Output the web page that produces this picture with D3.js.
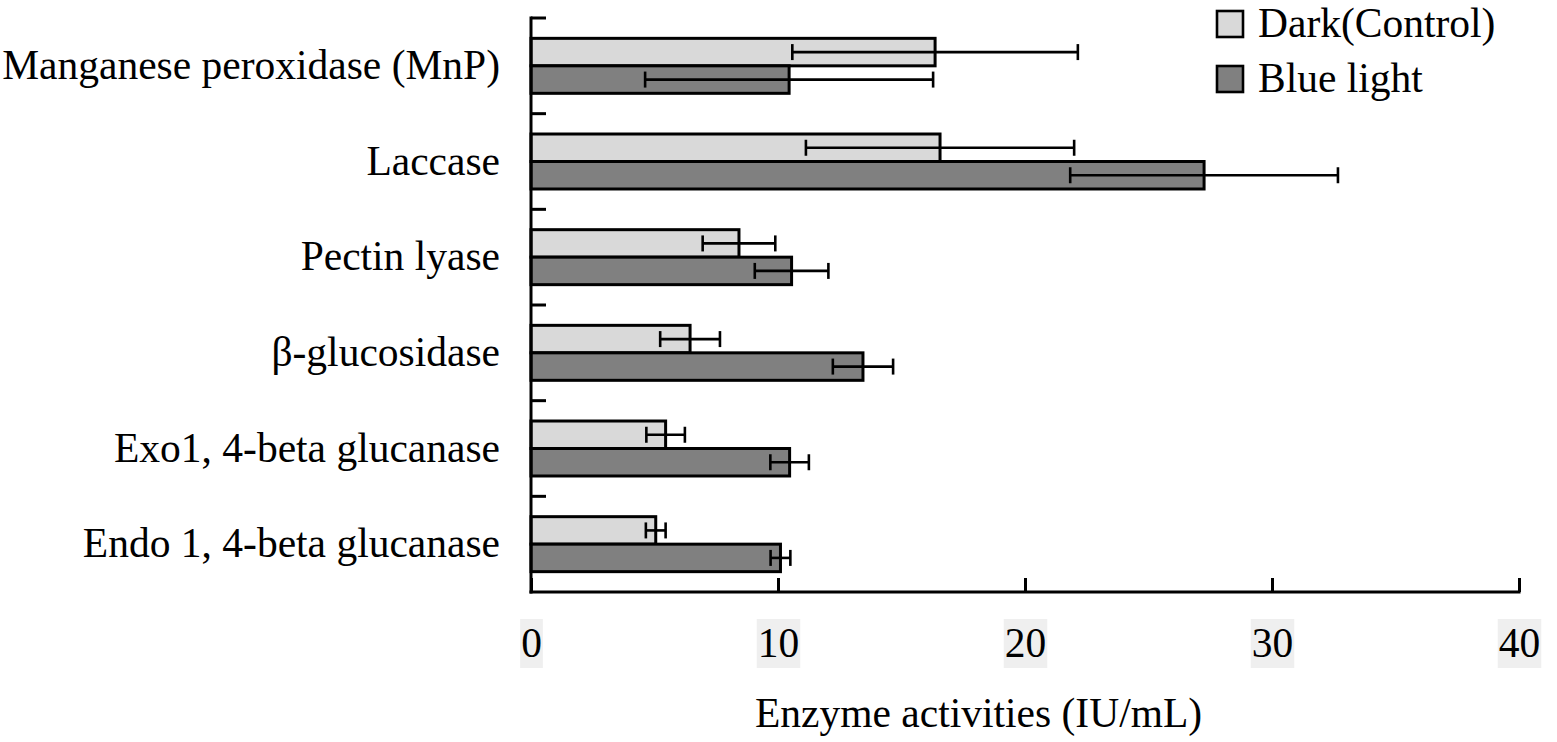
<!DOCTYPE html>
<html>
<head>
<meta charset="utf-8">
<script src="https://cdn.jsdelivr.net/npm/d3@7"></script>
<style>
  html, body { margin: 0; padding: 0; background: #fff; }
  text { font-family: "Liberation Serif", "Times New Roman", serif; fill: #000; }
</style>
</head>
<body>
<svg id="chart" width="1557" height="742"></svg>
<script>
var categories = [
    'Manganese peroxidase (MnP)',
    'Laccase',
    'Pectin lyase',
    '\u03b2-glucosidase',
    'Exo1, 4-beta glucanase',
    'Endo 1, 4-beta glucanase'
];
var seriesNames = ['Dark(Control)', 'Blue light'];
var darkValues = [16.36, 16.56, 8.42, 6.44, 5.45, 5.05];
var darkErrors = [5.78, 5.43, 1.47, 1.21, 0.78, 0.4];
var blueValues = [10.45, 27.25, 10.55, 13.44, 10.47, 10.1];
var blueErrors = [5.83, 5.42, 1.49, 1.22, 0.78, 0.4];
var xTicks = [0, 10, 20, 30, 40];
var xTitle = 'Enzyme activities (IU/mL)';

(function () {
    'use strict';

    var svg = d3.select('#chart');
    var fontSize = 41.5;
    var colors = ['#d9d9d9', '#808080'];

    var x = d3.scaleLinear().domain([0, 40]).range([531, 1519]);
    var y0 = d3.scaleBand().domain(categories).range([18, 592]).padding(0);
    var y1 = d3.scaleBand().domain(seriesNames)
        .range([0, y0.bandwidth()])
        .paddingInner(0)
        .paddingOuter(0.74);

    var rows = categories.map(function (c, i) {
        return {
            cat: c,
            vals: [
                { s: seriesNames[0], v: darkValues[i], e: darkErrors[i], k: 0 },
                { s: seriesNames[1], v: blueValues[i], e: blueErrors[i], k: 1 }
            ]
        };
    });

    // bars
    var groups = svg.append('g').selectAll('g')
        .data(rows)
        .enter().append('g')
            .attr('transform', function (d) { return 'translate(0,' + y0(d.cat) + ')'; });

    groups.selectAll('rect')
        .data(function (d) { return d.vals; })
        .enter().append('rect')
            .attr('x', x(0))
            .attr('y', function (d) { return y1(d.s); })
            .attr('width', function (d) { return x(d.v) - x(0); })
            .attr('height', y1.bandwidth())
            .attr('fill', function (d) { return colors[d.k]; })
            .attr('stroke', '#000')
            .attr('stroke-width', 3);

    // error bars
    var err = groups.selectAll('g.err')
        .data(function (d) { return d.vals; })
        .enter().append('g')
            .attr('class', 'err')
            .attr('stroke', '#000')
            .attr('stroke-width', 2.6);

    err.append('line')
        .attr('x1', function (d) { return x(d.v - d.e); })
        .attr('x2', function (d) { return x(d.v + d.e); })
        .attr('y1', function (d) { return y1(d.s) + y1.bandwidth() / 2; })
        .attr('y2', function (d) { return y1(d.s) + y1.bandwidth() / 2; });

    [-1, 1].forEach(function (sgn) {
        err.append('line')
            .attr('x1', function (d) { return x(d.v + sgn * d.e); })
            .attr('x2', function (d) { return x(d.v + sgn * d.e); })
            .attr('y1', function (d) { return y1(d.s) + y1.bandwidth() / 2 - 8; })
            .attr('y2', function (d) { return y1(d.s) + y1.bandwidth() / 2 + 8; });
    });

    // y axis line and ticks at category boundaries
    var yAxis = svg.append('g').attr('stroke', '#000').attr('stroke-width', 3);
    yAxis.append('line')
        .attr('x1', x(0)).attr('x2', x(0))
        .attr('y1', y0.range()[0] - 1.5).attr('y2', y0.range()[1] + 1.5);
    yAxis.selectAll('line.tk')
        .data(categories)
        .enter().append('line')
            .attr('class', 'tk')
            .attr('x1', x(0))
            .attr('x2', x(0) + 15)
            .attr('y1', function (d) { return y0(d); })
            .attr('y2', function (d) { return y0(d); });

    // category labels
    svg.append('g').selectAll('text')
        .data(categories)
        .enter().append('text')
            .attr('x', 500)
            .attr('y', function (d) { return y0(d) + y0.bandwidth() / 2 + 13; })
            .attr('text-anchor', 'end')
            .attr('font-size', fontSize)
            .text(function (d) { return d; });

    // x axis
    var xAxisG = svg.append('g')
        .attr('transform', 'translate(0,592)')
        .call(d3.axisBottom(x).tickValues(xTicks).tickSize(-14).tickSizeOuter(0).tickPadding(0));
    xAxisG.select('.domain').attr('stroke', '#000').attr('stroke-width', 3.2)
        .attr('d', 'M' + (x(0) - 1.5) + ',0H' + (x(40) + 1.5));
    xAxisG.selectAll('.tick line').attr('stroke', '#000').attr('stroke-width', 3);
    xAxisG.selectAll('.tick text')
        .attr('font-size', fontSize)
        .attr('font-family', '"Liberation Serif", serif')
        .attr('fill', '#000')
        .attr('dy', 0)
        .attr('y', 65);

    // light boxes behind tick labels
    xAxisG.selectAll('.tick').each(function () {
        var t = d3.select(this).select('text');
        var bb = t.node().getBBox();
        d3.select(this).insert('rect', 'text')
            .attr('x', bb.x - 1)
            .attr('y', 27)
            .attr('width', bb.width + 2)
            .attr('height', 49)
            .attr('fill', '#efefef');
    });

    // x axis title
    svg.append('text')
        .attr('x', 755)
        .attr('y', 727)
        .attr('font-size', fontSize)
        .text(xTitle);

    // legend
    var legend = svg.append('g').selectAll('g')
        .data(seriesNames)
        .enter().append('g')
            .attr('transform', function (d, i) { return 'translate(1217,' + (11 + i * 55) + ')'; });
    legend.append('rect')
        .attr('width', 26)
        .attr('height', 26)
        .attr('fill', function (d, i) { return colors[i]; })
        .attr('stroke', '#000')
        .attr('stroke-width', 2.6);
    legend.append('text')
        .attr('x', 41)
        .attr('y', 26)
        .attr('font-size', fontSize)
        .text(function (d) { return d; });
})();
</script>
</body>
</html>
